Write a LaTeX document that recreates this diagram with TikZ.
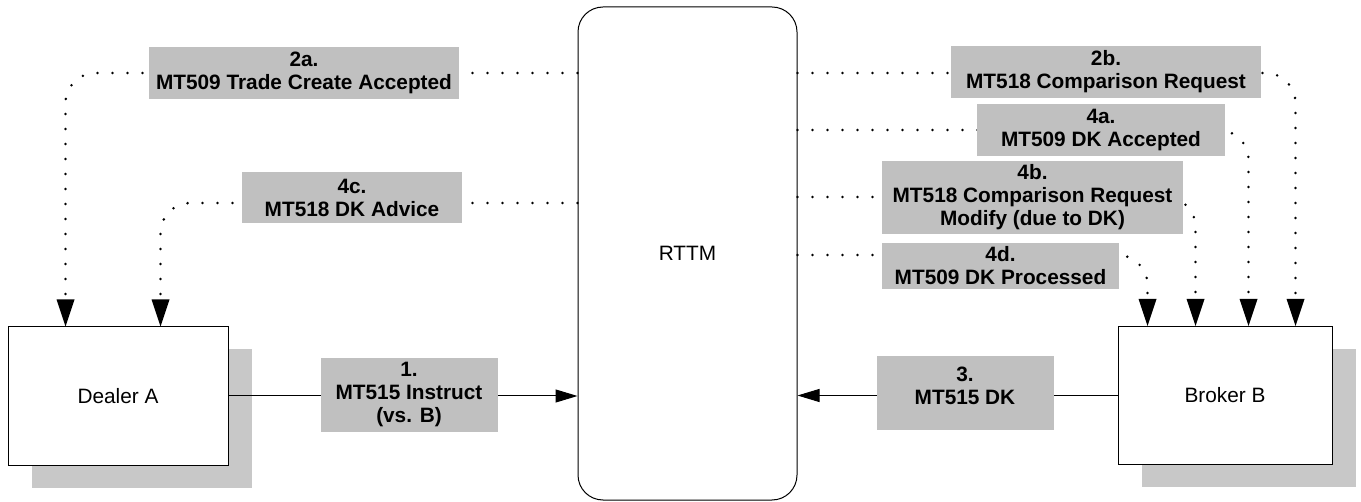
\documentclass[tikz,border=0pt]{standalone}
\usepackage{fontspec}
\setmainfont{Liberation Sans}
\usetikzlibrary{arrows.meta, calc, shadows}
\definecolor{msggray}{RGB}{192,192,192}
\definecolor{shadegray}{RGB}{200,200,200}

\begin{document}
\begin{tikzpicture}[
  x=0.5pt, y=-0.5pt,
  font=\fontsize{10.4}{11.5}\selectfont,
  party/.style={draw, line width=0.5pt, fill=white, minimum width=#1, minimum height=69pt, inner sep=0pt,
    drop shadow={shadow xshift=12pt, shadow yshift=-11.25pt, fill=shadegray, opacity=1}},
  msg/.style={fill=msggray, font=\fontsize{10.4}{11.5}\selectfont\bfseries, align=center, inner sep=0pt},
  flow/.style={line width=0.5pt, -{Triangle[length=11pt, width=6.5pt]}},
  dotflow/.style={line width=1.4pt, line cap=round, dash pattern=on 0pt off 7.5pt, rounded corners=15pt,
    -{Triangle[length=13.5pt, width=9pt, line width=0pt]}}
]
  \useasboundingbox (0,0) rectangle (1361,502);

  \node[draw, line width=0.5pt, rounded corners=12.5pt, minimum width=109.5pt, minimum height=246.5pt] (rttm) at (687.5,253.5) {RTTM};
  \node[party=110pt] (dealer) at (118,396) {Dealer A};
  \node[party=107pt] (broker) at (1225,395.5) {Broker B};

  \draw[flow] (dealer.east) -- (dealer.east -| rttm.west);
  \draw[flow] (broker.west) -- (broker.west -| rttm.east);

  \draw[dotflow] (rttm.west |- 0,73) -| ($(dealer.north west)+(58,0)$);
  \draw[dotflow] (rttm.west |- 0,203) -| ($(dealer.north west)+(153,0)$);
  \draw[dotflow] (rttm.east |- 0,73) -| ($(broker.north west)+(178,0)$);
  \draw[dotflow] (rttm.east |- 0,130) -| ($(broker.north west)+(131,0)$);
  \draw[dotflow] (rttm.east |- 0,197) -| ($(broker.north west)+(78,0)$);
  \draw[dotflow] (rttm.east |- 0,255) -| ($(broker.north west)+(30,0)$);

  \node[msg, minimum width=155pt, minimum height=26pt] (m2a) at (304,73) {2a.\\MT509 Trade Create Accepted};
  \node[msg, minimum width=110pt, minimum height=25.5pt] (m4c) at (352,197.5) {4c.\\MT518 DK Advice};
  \node[msg, minimum width=88.5pt, minimum height=37pt] (m1) at (409,395) {1.\\MT515 Instruct\\(vs. B)};
  \node[msg, minimum width=88.5pt, minimum height=37pt] (m3) at (965,393) {3.\\MT515 DK\\[-4.5pt]\mbox{}};
  \node[msg, minimum width=155pt, minimum height=26pt] (m2b) at (1106,72) {2b.\\MT518 Comparison Request};
  \node[msg, minimum width=124pt, minimum height=26pt] (m4a) at (1101,130) {4a.\\MT509 DK Accepted};
  \node[msg, minimum width=150.5pt, minimum height=36.5pt] (m4b) at (1032.5,197.5) {4b.\\MT518 Comparison Request\\Modify (due to DK)};
  \node[msg, minimum width=118.5pt, minimum height=23pt] (m4d) at (1000.5,266) {4d.\\MT509 DK Processed};
\end{tikzpicture}
\end{document}
